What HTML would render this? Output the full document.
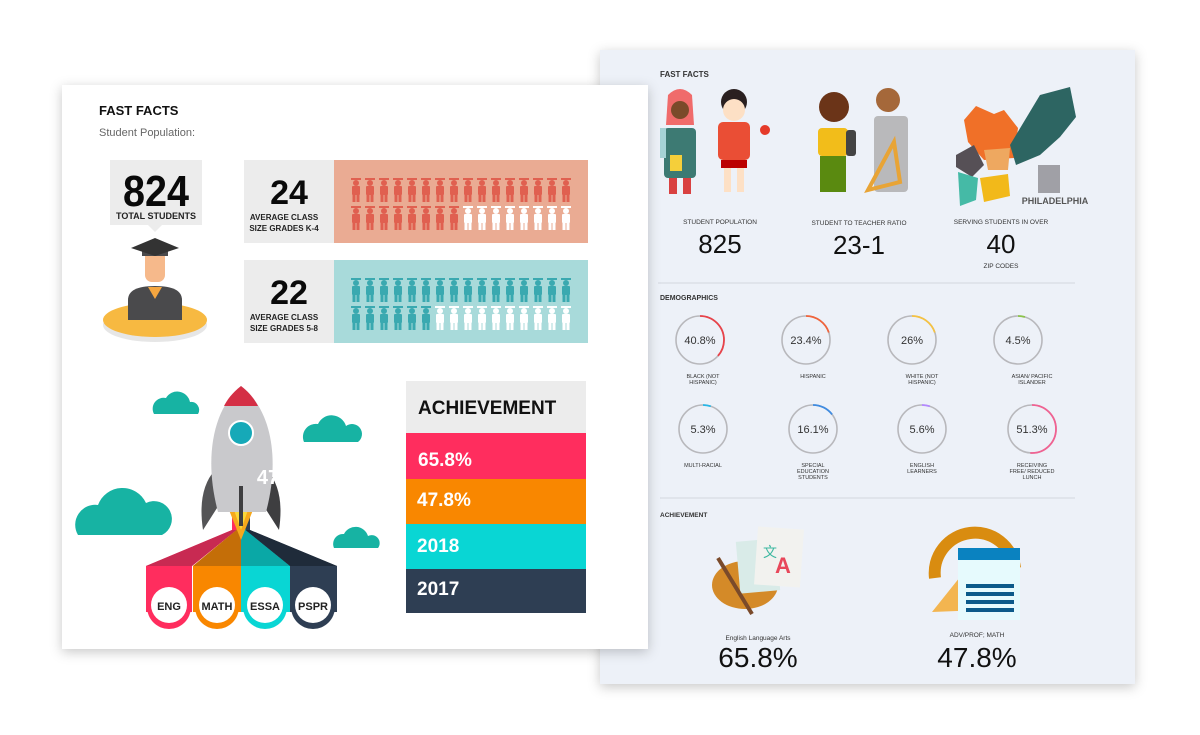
<!DOCTYPE html>
<html><head><meta charset="utf-8"><style>
html,body{margin:0;padding:0;background:#fff;width:1200px;height:735px;overflow:hidden}
svg{display:block}
.c{font-family:"Liberation Sans Narrow","Liberation Sans",sans-serif;font-weight:bold}
.s{font-family:"Liberation Sans",sans-serif}
</style></head><body>
<svg width="1200" height="735" viewBox="0 0 1200 735" xmlns="http://www.w3.org/2000/svg">
<defs>
<filter id="sh" x="-10%" y="-10%" width="120%" height="120%"><feDropShadow dx="0" dy="3" stdDeviation="6" flood-color="#000" flood-opacity="0.22"/></filter>
<g id="p"><rect x="-5" y="0" width="10" height="2"/><circle cx="0" cy="5" r="3"/><rect x="-4" y="8" width="8" height="9" rx="1"/><rect x="-3.5" y="16" width="3" height="8"/><rect x="0.5" y="16" width="3" height="8"/></g>
</defs>

<!-- right panel -->
<rect x="600" y="50" width="535" height="634" fill="#edf1f8" filter="url(#sh)"/>
<g class="s" fill="#222">
<text x="660" y="77" font-size="8" font-weight="bold" fill="#333">FAST FACTS</text>
<g>
<path d="M668 95 q12 -12 24 0 l2 30 h-28z" fill="#f06b6b"/><circle cx="680" cy="110" r="9" fill="#7a4a2a"/>
<rect x="664" y="128" width="32" height="50" rx="4" fill="#3d7a73"/><rect x="660" y="128" width="6" height="30" fill="#a6d3d6"/>
<rect x="669" y="178" width="8" height="16" fill="#d94141"/><rect x="683" y="178" width="8" height="16" fill="#d94141"/>
<rect x="670" y="155" width="12" height="16" fill="#f5cf3a"/>
<circle cx="734" cy="102" r="13" fill="#2a2020"/><circle cx="734" cy="110" r="11" fill="#fde0c5"/>
<rect x="718" y="122" width="32" height="38" rx="5" fill="#ea4e35"/><rect x="721" y="160" width="26" height="8" fill="#b00"/>
<rect x="724" y="168" width="7" height="24" fill="#fde0c5"/><rect x="737" y="168" width="7" height="24" fill="#fde0c5"/>
<circle cx="765" cy="130" r="5" fill="#e53a2a"/>
</g>
<g>
<circle cx="834" cy="107" r="15" fill="#6b3418"/><rect x="818" y="128" width="30" height="28" rx="4" fill="#f2bd1a"/>
<rect x="820" y="156" width="26" height="36" fill="#5a8a10"/><rect x="846" y="130" width="10" height="26" rx="3" fill="#444"/>
<circle cx="888" cy="100" r="12" fill="#a5683a"/><rect x="874" y="116" width="34" height="76" rx="4" fill="#b9b9bb"/>
<path d="M868 190 l26 -48 l6 40z" fill="none" stroke="#e8a436" stroke-width="4"/>
</g>
<g>
<path d="M964 120 l12 -14 l18 8 l10 -4 l14 18 l-4 30 l-30 2 l-16 -18z" fill="#f07028"/>
<path d="M1010 145 l30 -50 l30 -8 l6 30 l-16 20 l-20 18 l-24 10z" fill="#2d6562"/>
<path d="M956 155 l18 -10 l10 20 l-12 12 l-16 -10z" fill="#565056"/>
<path d="M984 150 l26 -2 l-2 22 l-20 0z" fill="#eea860"/>
<path d="M958 172 l20 6 l-2 22 l-16 6z" fill="#45baa6"/>
<path d="M980 178 l28 -4 l2 22 l-26 6z" fill="#f2b91a"/>
<rect x="1038" y="165" width="22" height="28" fill="#a0a0a6"/>
<text x="1055" y="204" font-size="9" font-weight="bold" text-anchor="middle" fill="#555" class="c">PHILADELPHIA</text>
</g>
<g font-size="6.5" text-anchor="middle" fill="#333">
<text x="720" y="224">STUDENT POPULATION</text>
<text x="859" y="225">STUDENT TO TEACHER RATIO</text>
<text x="1001" y="224">SERVING STUDENTS IN OVER</text>
<text x="1001" y="268">ZIP CODES</text>
</g>
<g font-size="26" text-anchor="middle" fill="#111">
<text x="720" y="253">825</text><text x="859" y="254">23-1</text><text x="1001" y="253">40</text>
</g>
<line x1="658" y1="283" x2="1075" y2="283" stroke="#d2d6de"/>
<text x="660" y="300" font-size="7" font-weight="bold" fill="#333">DEMOGRAPHICS</text>
<g fill="none" stroke="#b8b8bc" stroke-width="1.6">
<circle cx="700" cy="340" r="24"/><circle cx="806" cy="340" r="24"/><circle cx="912" cy="340" r="24"/><circle cx="1018" cy="340" r="24"/>
<circle cx="703" cy="429" r="24"/><circle cx="813" cy="429" r="24"/><circle cx="922" cy="429" r="24"/><circle cx="1032" cy="429" r="24"/>
</g>
<g fill="none" stroke-width="1.8">
<circle cx="700" cy="340" r="24" stroke="#e8434a" stroke-dasharray="55 200" transform="rotate(-90 700 340)"/>
<circle cx="806" cy="340" r="24" stroke="#f0643c" stroke-dasharray="30 200" transform="rotate(-90 806 340)"/>
<circle cx="912" cy="340" r="24" stroke="#f5c242" stroke-dasharray="30 200" transform="rotate(-90 912 340)"/>
<circle cx="1018" cy="340" r="24" stroke="#8bc34a" stroke-dasharray="7 200" transform="rotate(-90 1018 340)"/>
<circle cx="703" cy="429" r="24" stroke="#29b6e6" stroke-dasharray="8 200" transform="rotate(-90 703 429)"/>
<circle cx="813" cy="429" r="24" stroke="#3f8be0" stroke-dasharray="22 200" transform="rotate(-90 813 429)"/>
<circle cx="922" cy="429" r="24" stroke="#b388ff" stroke-dasharray="8 200" transform="rotate(-90 922 429)"/>
<circle cx="1032" cy="429" r="24" stroke="#f06292" stroke-dasharray="77 200" transform="rotate(-90 1032 429)"/>
</g>
<g font-size="11" text-anchor="middle" fill="#333">
<text x="700" y="344">40.8%</text><text x="806" y="344">23.4%</text><text x="912" y="344">26%</text><text x="1018" y="344">4.5%</text>
<text x="703" y="433">5.3%</text><text x="813" y="433">16.1%</text><text x="922" y="433">5.6%</text><text x="1032" y="433">51.3%</text>
</g>
<g font-size="5.5" text-anchor="middle" fill="#333">
<text x="703" y="378">BLACK (NOT</text><text x="703" y="384">HISPANIC)</text>
<text x="813" y="378">HISPANIC</text>
<text x="922" y="378">WHITE (NOT</text><text x="922" y="384">HISPANIC)</text>
<text x="1032" y="378">ASIAN/ PACIFIC</text><text x="1032" y="384">ISLANDER</text>
<text x="703" y="467">MULTI-RACIAL</text>
<text x="813" y="467">SPECIAL</text><text x="813" y="473">EDUCATION</text><text x="813" y="479">STUDENTS</text>
<text x="922" y="467">ENGLISH</text><text x="922" y="473">LEARNERS</text>
<text x="1032" y="467">RECEIVING</text><text x="1032" y="473">FREE/ REDUCED</text><text x="1032" y="479">LUNCH</text>
</g>
<line x1="660" y1="498" x2="1075" y2="498" stroke="#d2d6de"/>
<text x="660" y="517" font-size="6.5" font-weight="bold" fill="#333">ACHIEVEMENT</text>
<ellipse cx="745" cy="585" rx="33" ry="24" fill="#d48a28"/>
<rect x="738" y="540" width="40" height="52" fill="#d9ebe8" transform="rotate(-5 758 566)"/>
<rect x="756" y="528" width="46" height="58" fill="#f2f2ef" transform="rotate(4 779 557)"/>
<text x="783" y="573" font-size="22" font-weight="bold" fill="#e8475a" text-anchor="middle">A</text>
<text x="770" y="557" font-size="14" fill="#3cb8a0" text-anchor="middle">文</text>
<line x1="718" y1="558" x2="752" y2="614" stroke="#7a4a2a" stroke-width="4"/>
<path d="M935 578 a40 40 0 0 1 80 -10" fill="none" stroke="#d98c10" stroke-width="12"/>
<path d="M932 612 l40 -50 l10 48z" fill="#f3b550"/>
<rect x="958" y="548" width="62" height="72" fill="#e6fafd"/><rect x="958" y="548" width="62" height="12" fill="#0a82c0"/>
<g fill="#0c5a8a"><rect x="966" y="584" width="48" height="4"/><rect x="966" y="592" width="48" height="4"/><rect x="966" y="600" width="48" height="4"/><rect x="966" y="608" width="48" height="4"/></g>
<g font-size="6.5" text-anchor="middle" fill="#333"><text x="758" y="640">English Language Arts</text><text x="977" y="637">ADV/PROF; MATH</text></g>
<g font-size="28" text-anchor="middle" fill="#111"><text x="758" y="667">65.8%</text><text x="977" y="667">47.8%</text></g>
</g>

<!-- left panel -->
<rect x="62" y="85" width="586" height="564" fill="#fff" filter="url(#sh)"/>
<text x="99" y="115" class="s" font-size="13" font-weight="bold" fill="#111">FAST FACTS</text>
<text x="99" y="136" class="s" font-size="11" fill="#666">Student Population:</text>
<rect x="110" y="160" width="92" height="65" fill="#ececec"/>
<path d="M148 225 h14 l-7 7z" fill="#ececec"/>
<text x="156" y="206" class="c" font-size="44" text-anchor="middle" fill="#0a0a0a" textLength="66" lengthAdjust="spacingAndGlyphs">824</text>
<text x="156" y="219" class="c" font-size="9" font-weight="normal" text-anchor="middle" fill="#222">TOTAL STUDENTS</text>
<ellipse cx="155" cy="325" rx="52" ry="17" fill="#e6e6e6"/>
<ellipse cx="155" cy="320" rx="52" ry="17" fill="#f7b941"/>
<path d="M128 320 v-20 q0 -14 27 -14 q27 0 27 14 v20z" fill="#4a4a4c"/>
<path d="M148 287 l7 12 l7 -12z" fill="#f5a640"/>
<rect x="145" y="250" width="20" height="32" rx="7" fill="#f6b98b"/>
<rect x="142" y="249" width="26" height="7" fill="#4a4a4c"/>
<path d="M131 248 l24 -10 l24 10 l-24 8z" fill="#333"/>
<rect x="244" y="160" width="90" height="83" fill="#ececec"/>
<rect x="334" y="160" width="254" height="83" fill="#eaab93"/>
<rect x="244" y="260" width="90" height="83" fill="#ececec"/>
<rect x="334" y="260" width="254" height="83" fill="#a8dada"/>
<text x="289" y="204" class="c" font-size="34" text-anchor="middle" fill="#0a0a0a">24</text>
<text x="289" y="304" class="c" font-size="34" text-anchor="middle" fill="#0a0a0a">22</text>
<g class="c" font-size="8" font-weight="normal" text-anchor="middle" fill="#222">
<text x="284" y="220">AVERAGE CLASS</text><text x="284" y="231">SIZE GRADES K-4</text>
<text x="284" y="320">AVERAGE CLASS</text><text x="284" y="331">SIZE GRADES 5-8</text>
</g>
<g fill="#e06050">
<use href="#p" x="356" y="178"/><use href="#p" x="370" y="178"/><use href="#p" x="384" y="178"/><use href="#p" x="398" y="178"/><use href="#p" x="412" y="178"/><use href="#p" x="426" y="178"/><use href="#p" x="440" y="178"/><use href="#p" x="454" y="178"/><use href="#p" x="468" y="178"/><use href="#p" x="482" y="178"/><use href="#p" x="496" y="178"/><use href="#p" x="510" y="178"/><use href="#p" x="524" y="178"/><use href="#p" x="538" y="178"/><use href="#p" x="552" y="178"/><use href="#p" x="566" y="178"/>
<use href="#p" x="356" y="206"/><use href="#p" x="370" y="206"/><use href="#p" x="384" y="206"/><use href="#p" x="398" y="206"/><use href="#p" x="412" y="206"/><use href="#p" x="426" y="206"/><use href="#p" x="440" y="206"/><use href="#p" x="454" y="206"/>
</g>
<g fill="#fff">
<use href="#p" x="468" y="206"/><use href="#p" x="482" y="206"/><use href="#p" x="496" y="206"/><use href="#p" x="510" y="206"/><use href="#p" x="524" y="206"/><use href="#p" x="538" y="206"/><use href="#p" x="552" y="206"/><use href="#p" x="566" y="206"/>
<use href="#p" x="440" y="306"/><use href="#p" x="454" y="306"/><use href="#p" x="468" y="306"/><use href="#p" x="482" y="306"/><use href="#p" x="496" y="306"/><use href="#p" x="510" y="306"/><use href="#p" x="524" y="306"/><use href="#p" x="538" y="306"/><use href="#p" x="552" y="306"/><use href="#p" x="566" y="306"/>
</g>
<g fill="#3aa9b0">
<use href="#p" x="356" y="278"/><use href="#p" x="370" y="278"/><use href="#p" x="384" y="278"/><use href="#p" x="398" y="278"/><use href="#p" x="412" y="278"/><use href="#p" x="426" y="278"/><use href="#p" x="440" y="278"/><use href="#p" x="454" y="278"/><use href="#p" x="468" y="278"/><use href="#p" x="482" y="278"/><use href="#p" x="496" y="278"/><use href="#p" x="510" y="278"/><use href="#p" x="524" y="278"/><use href="#p" x="538" y="278"/><use href="#p" x="552" y="278"/><use href="#p" x="566" y="278"/>
<use href="#p" x="356" y="306"/><use href="#p" x="370" y="306"/><use href="#p" x="384" y="306"/><use href="#p" x="398" y="306"/><use href="#p" x="412" y="306"/><use href="#p" x="426" y="306"/>
</g>
<!-- clouds -->
<g fill="#17b3a3">
<path d="M154 414 a11 11 0 0 1 12 -16 a13 13 0 0 1 24 4 a8 8 0 0 1 8 12z"/>
<path d="M78 535 a20 20 0 0 1 20 -30 a26 26 0 0 1 48 -2 a16 16 0 0 1 16 32z"/>
<path d="M304 442 a13 13 0 0 1 14 -18 a15 15 0 0 1 28 2 a10 10 0 0 1 12 16z"/>
<path d="M334 548 a10 10 0 0 1 10 -14 a13 13 0 0 1 24 2 a8 8 0 0 1 10 12z"/>
</g>
<!-- tabs -->
<polygon points="232,495 236.5,495 236.5,530 192,566 192,612 146,612 146,566 232,530" fill="#ff2d5e"/>
<polygon points="236.5,495 241,495 241,530 241,566 241,612 193,612 193,566 236.5,530" fill="#f98700"/>
<polygon points="241,495 245.5,495 245.5,530 290,566 290,612 241,612 241,566 241,530" fill="#09d6d4"/>
<polygon points="245.5,495 250,495 250,530 337,566 337,612 290,612 290,566 245.5,530" fill="#2e3e53"/>
<polygon points="232,530 236.5,530 192,566 146,566" fill="#c82a52"/>
<polygon points="236.5,530 241,530 241,566 193,566" fill="#c46e08"/>
<polygon points="241,530 245.5,530 290,566 241,566" fill="#0aa8a6"/>
<polygon points="245.5,530 250,530 337,566 290,566" fill="#1f2b3a"/>
<circle cx="169" cy="607" r="22" fill="#ff2d5e"/><circle cx="217" cy="607" r="22" fill="#f98700"/><circle cx="265" cy="607" r="22" fill="#09d6d4"/><circle cx="313" cy="607" r="22" fill="#2e3e53"/>
<g fill="#fff"><circle cx="169" cy="605" r="18"/><circle cx="217" cy="605" r="18"/><circle cx="265" cy="605" r="18"/><circle cx="313" cy="605" r="18"/></g>
<g class="c" font-size="11" text-anchor="middle" fill="#222">
<text x="169" y="610">ENG</text><text x="217" y="610">MATH</text><text x="265" y="610">ESSA</text><text x="313" y="610">PSPR</text>
</g>
<!-- rocket -->
<path d="M241 540 l-12 -30 h24z" fill="#f6a81c"/>
<path d="M241 530 l-7 -20 h14z" fill="#fbd83a"/>
<path d="M215 470 q-18 20 -12 60 l14 -22z" fill="#545456"/>
<path d="M267 470 q18 20 12 60 l-14 -22z" fill="#3e3e40"/>
<path d="M241 386 C212 410 204 460 218 512 L266 512 C280 460 272 410 241 386Z" fill="#c9c9cc"/>
<path d="M241 386 C232 393 227 400 224 406 L258 406 C255 400 250 393 241 386Z" fill="#d42f45"/>
<circle cx="241" cy="433" r="12" fill="#16a9b8" stroke="#fff" stroke-width="2"/>
<rect x="239" y="486" width="4" height="40" fill="#3e3e40"/>
<text x="268" y="484" class="c" font-size="20" fill="#fff" text-anchor="middle">47</text>
<!-- achievement table -->
<rect x="406" y="381" width="180" height="52" fill="#ececec"/>
<rect x="406" y="433" width="180" height="46" fill="#ff2d5e"/>
<rect x="406" y="479" width="180" height="45" fill="#f98700"/>
<rect x="406" y="524" width="180" height="45" fill="#09d6d4"/>
<rect x="406" y="569" width="180" height="44" fill="#2e3e53"/>
<text x="418" y="414" class="c" font-size="19" fill="#111">ACHIEVEMENT</text>
<g class="c" font-size="19" fill="#fff">
<text x="418" y="466">65.8%</text><text x="417" y="506">47.8%</text><text x="417" y="552">2018</text><text x="417" y="595">2017</text>
</g>
</svg>
</body></html>
